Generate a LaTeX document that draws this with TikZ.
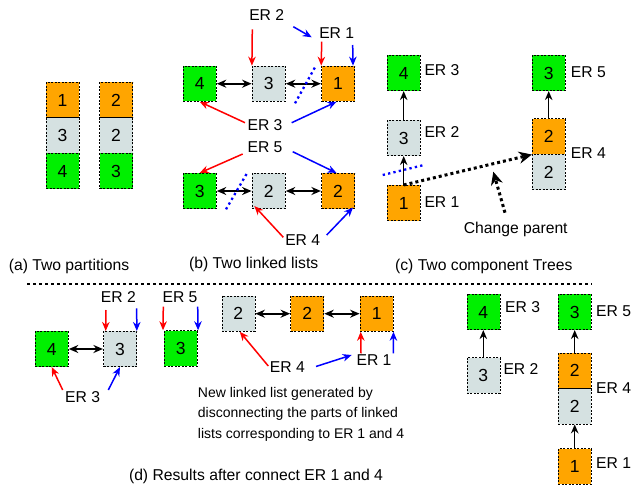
\documentclass[tikz,border=0pt]{standalone}
\usepackage{fontspec}
\setmainfont{Liberation Sans}
\usetikzlibrary{arrows.meta}
\definecolor{cOr}{HTML}{FFA500}
\definecolor{cGr}{HTML}{00F000}
\definecolor{cGy}{HTML}{D5E1E1}
\definecolor{cRd}{HTML}{FF0000}
\definecolor{cBl}{HTML}{0000FF}
\tikzset{
  cell/.style={draw=black, dashed, dash pattern=on 2pt off 1.5pt, line width=0.6pt,
    minimum width=33pt, minimum height=35.5pt, inner sep=0pt,
    font=\fontsize{17.5}{17.5}\selectfont},
  boxo/.style={cell, fill=cOr},
  boxg/.style={cell, fill=cGr},
  boxy/.style={cell, fill=cGy},
  lbl/.style={inner sep=0pt, font=\fontsize{15.7}{15.7}\selectfont},
  captxt/.style={lbl, anchor=base},
  note/.style={inner sep=0pt, align=left, font=\fontsize{14}{20.3}\selectfont},
  dbl/.style={line width=1.8pt, {Stealth[length=9.5pt,width=8pt]}-{Stealth[length=9.5pt,width=8pt]}, shorten <=0.3pt, shorten >=0.3pt},
  tarr/.style={line width=1.5pt, -{Stealth[length=9pt,width=7.5pt]}},
  rarr/.style={draw=cRd, line width=1.5pt, -{Stealth[length=9pt,width=7.5pt]}},
  barr/.style={draw=cBl, line width=1.5pt, -{Stealth[length=9pt,width=7.5pt]}},
  cut/.style={draw=cBl, line width=2.3pt, dash pattern=on 2.3pt off 3.2pt},
  moved/.style={line width=3pt, dash pattern=on 3pt off 3pt, -{Stealth[length=13pt,width=12pt]}},
  sep/.style={line width=1.1pt, dash pattern=on 3pt off 3pt},
}
\begin{document}
\begin{tikzpicture}[x=1pt,y=-1pt]
\useasboundingbox (0,0) rectangle (631,487);
% (a)
\node[boxo] (a11) at (62.5,100) {1};
\node[boxy] (a13) at (62.5,135.5) {3};
\node[boxg] (a14) at (62.5,171) {4};
\node[boxo] (a22) at (116,100) {2};
\node[boxy] (a22b) at (116,135.5) {2};
\node[boxg] (a23) at (116,171) {3};
\node[captxt] (capa) at (69,270.6) {(a) Two partitions};
% (b)
\node[boxg] (b4) at (199.7,83.7) {4};
\node[boxy] (b3) at (268.7,83.7) {3};
\node[boxo] (b1) at (338,83.7) {1};
\node[boxg] (b3g) at (199.7,191) {3};
\node[boxy] (b2y) at (268.7,191) {2};
\node[boxo] (b2o) at (338,191) {2};
\draw[dbl] (b4) -- (b3);
\draw[dbl] (b3) -- (b1);
\draw[dbl] (b3g) -- (b2y);
\draw[dbl] (b2y) -- (b2o);
\node[lbl] (bER2) at (266.7,15) {ER 2};
\node[lbl] (bER1) at (336.7,32.7) {ER 1};
\node[lbl] (bER3) at (265,125) {ER 3};
\node[lbl] (bER5) at (265,146.7) {ER 5};
\node[lbl] (bER4) at (302.7,240) {ER 4};
\coordinate (r2s) at (252.3,29.3);
\draw[rarr] (r2s) -- (b3.north west);
\coordinate (bfs) at (293.3,26.7);
\coordinate (bfe) at (311.7,37.3);
\draw[barr] (bfs) -- (bfe);
\coordinate (r1s) at (321.7,41.7);
\draw[rarr] (r1s) -- (b1.north west);
\coordinate (bl1s) at (352.7,45);
\draw[barr] (bl1s) -- ([xshift=-1.8pt]b1.north east);
\coordinate (r3s) at (245,122.7);
\draw[rarr] (r3s) -- (b4.south);
\coordinate (bl3s) at (291.7,122.7);
\draw[barr] (bl3s) -- ([xshift=-1.5pt]b1.south);
\coordinate (r5s) at (242.7,154);
\draw[rarr] (r5s) -- (b3g.north);
\coordinate (bl5s) at (292.7,151.7);
\draw[barr] (bl5s) -- ([xshift=-1.5pt]b2o.north);
\coordinate (r4s) at (283.3,237.3);
\draw[rarr] (r4s) -- ([xshift=2.5pt,yshift=3pt]b2y.south west);
\coordinate (bl4s) at (326.7,235);
\draw[barr] (bl4s) -- ([xshift=-1.8pt,yshift=1.5pt]b2o.south east);
\coordinate (cu1a) at (295,103.3);
\coordinate (cu1b) at (315.7,66);
\draw[cut] (cu1a) -- (cu1b);
\coordinate (cu2a) at (226,209.3);
\coordinate (cu2b) at (247.3,172.7);
\draw[cut] (cu2a) -- (cu2b);
\node[captxt] (capb) at (253.7,268.9) {(b) Two linked lists};
% (c)
\node[boxg] (c4) at (403.7,73) {4};
\node[boxy] (c3) at (403.7,138) {3};
\node[boxo] (c1) at (403.7,203) {1};
\draw[tarr] (c3) -- (c4);
\draw[tarr] (c1) -- (c3);
\node[lbl, anchor=west] (cER3) at (424.3,70) {ER 3};
\node[lbl, anchor=west] (cER2) at (424.3,132) {ER 2};
\node[lbl, anchor=west] (cER1) at (424.3,202) {ER 1};
\coordinate (cu3a) at (382.7,175);
\coordinate (cu3b) at (424,165);
\draw[cut] (cu3a) -- (cu3b);
\node[boxg] (c3g) at (548.7,73) {3};
\node[boxo] (c2o) at (548.7,136.5) {2};
\node[boxy] (c2y) at (548.7,172) {2};
\draw[tarr] (c2o) -- (c3g);
\node[lbl, anchor=west] (cER5) at (570.7,71.7) {ER 5};
\node[lbl, anchor=west] (cER4) at (570.7,152.7) {ER 4};
\draw[moved] (c1.north) -- (c2o.south west);
\coordinate (cps) at (505,212.7);
\coordinate (cpe) at (493.3,171.7);
\draw[moved] (cps) -- (cpe);
\node[captxt] (cpl) at (515.7,233.3) {Change parent};
\node[captxt] (capc) at (483.8,270.9) {(c) Two component Trees};
% separator
\coordinate (sepa) at (27,284);
\coordinate (sepb) at (592,284);
\draw[sep] (sepa) -- (sepb);
% (d)
\node[boxg] (d4) at (51.7,349) {4};
\node[boxy] (d3) at (120,349) {3};
\draw[dbl] (d4) -- (d3);
\node[lbl] (dER2) at (118.3,296.7) {ER 2};
\coordinate (dr2s) at (106,310);
\draw[rarr] (dr2s) -- ([xshift=2.5pt]d3.north west);
\coordinate (db2s) at (136.7,308.3);
\draw[barr] (db2s) -- (d3.north east);
\node[lbl] (dER3) at (82.7,397.3) {ER 3};
\coordinate (dr3s) at (62.7,390);
\draw[rarr] (dr3s) -- (d4.south);
\coordinate (db3s) at (108.3,390);
\draw[barr] (db3s) -- (d3.south);
\node[boxg] (d3g) at (180.8,348.3) {3};
\node[lbl] (dER5) at (180,296.7) {ER 5};
\coordinate (dr5s) at (163.3,306.7);
\draw[rarr] (dr5s) -- ([xshift=-1pt]d3g.north west);
\coordinate (db5s) at (197.7,306.7);
\draw[barr] (db5s) -- ([xshift=0.5pt]d3g.north east);
\node[boxy] (e2y) at (238.3,313.7) {2};
\node[boxo] (e2o) at (307.2,313.7) {2};
\node[boxo] (e1o) at (376.7,313.7) {1};
\draw[dbl] (e2y) -- (e2o);
\draw[dbl] (e2o) -- (e1o);
\node[lbl] (dER4) at (287.3,366.7) {ER 4};
\coordinate (dr4s) at (268.3,366);
\draw[rarr] (dr4s) -- ([xshift=1.5pt]e2y.south);
\coordinate (db4s) at (316,366.5);
\coordinate (db4e) at (351.7,355);
\draw[barr] (db4s) -- (db4e);
\node[lbl] (dER1) at (374,360) {ER 1};
\coordinate (dr1s) at (361,353.3);
\draw[rarr] (dr1s) -- ([xshift=0.8pt]e1o.south west);
\coordinate (db1s) at (393.3,353.3);
\draw[barr] (db1s) -- (e1o.south east);
\node[note, anchor=north west] (dnote) at (197.7,387.3) {New linked list generated by\\disconnecting the parts of linked\\lists corresponding to ER 1 and 4};
\node[captxt] (capd) at (256,480.6) {(d) Results after connect ER 1 and 4};
% right trees
\node[boxg] (f4) at (483.3,312) {4};
\node[boxy] (f3) at (483.3,375.3) {3};
\draw[tarr] (f3) -- (f4);
\node[lbl, anchor=west] (fER3) at (505,307.3) {ER 3};
\node[lbl, anchor=west] (fER2) at (503.3,369.3) {ER 2};
\node[boxg] (g3) at (574.7,312) {3};
\node[boxo] (g2o) at (574.7,370.85) {2};
\node[boxy] (g2y) at (574.7,406.35) {2};
\node[boxo] (g1o) at (574.7,466.3) {1};
\draw[tarr] (g2o) -- (g3);
\draw[tarr] (g1o) -- (g2y);
\node[lbl, anchor=west] (gER5) at (596,310.7) {ER 5};
\node[lbl, anchor=west] (gER4) at (596,388.3) {ER 4};
\node[lbl, anchor=west] (gER1) at (596,462.7) {ER 1};
\end{tikzpicture}
\end{document}
